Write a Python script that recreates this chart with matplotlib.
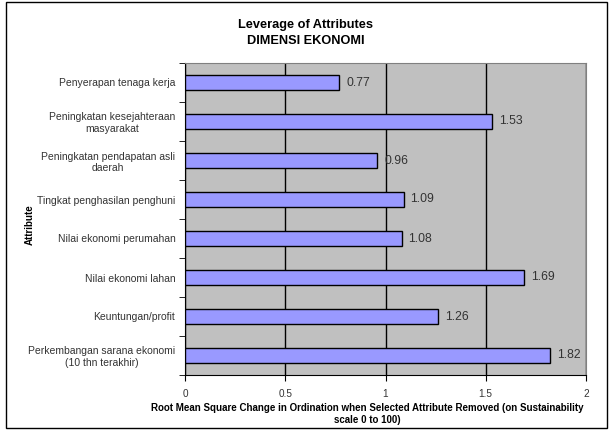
import matplotlib.pyplot as plt
from matplotlib.patches import Rectangle

# Leverage of attributes - economic dimension
attributes = [
    "Penyerapan tenaga kerja",
    "Peningkatan kesejahteraan\nmasyarakat",
    "Peningkatan pendapatan asli\ndaerah",
    "Tingkat penghasilan penghuni",
    "Nilai ekonomi perumahan",
    "Nilai ekonomi lahan",
    "Keuntungan/profit",
    "Perkembangan sarana ekonomi\n(10 thn terakhir)",
]
leverage = [0.77, 1.53, 0.96, 1.09, 1.08, 1.69, 1.26, 1.82]
x_ticks = [0, 0.5, 1, 1.5, 2]
x_ticklabels = ["0", "0.5", "1", "1.5", "2"]

plt.rcParams['font.family'] = ['Liberation Sans', 'DejaVu Sans']

fig = plt.figure(figsize=(6.11, 4.30), dpi=100)
ax = fig.add_axes([185 / 611, 1 - 375 / 430, 401 / 611, 312 / 430])

# frame around whole figure
fig.patches.append(Rectangle((6 / 611, 2 / 430), 601 / 611, 426 / 430,
                             transform=fig.transFigure, fill=False,
                             edgecolor='black', linewidth=1))

ax.set_facecolor('#C0C0C0')
pos = list(range(len(attributes)))
ax.barh(pos, leverage, height=0.37, color='#9999FF', edgecolor='black',
        linewidth=1, zorder=3)
for p, v in zip(pos, leverage):
    ax.text(v + 0.035, p, f"{v:.2f}", va='center', ha='left', fontsize=8.8,
            color='#333333', zorder=4)

ax.set_xlim(0, 2)
ax.set_ylim(len(attributes) - 0.5, -0.5)
ax.set_xticks(x_ticks)
ax.set_xticklabels(x_ticklabels, fontsize=7.2, color='#333333')
ax.set_yticks(pos)
ax.set_yticklabels(attributes, fontsize=7.5, color='#333333',
                   multialignment='center')
ax.tick_params(axis='y', length=0, pad=7)
ax.tick_params(axis='x', length=4, direction='out', pad=6)
ax.set_yticks([p + 0.5 for p in range(-1, len(attributes))], minor=True)
ax.tick_params(axis='y', which='minor', length=4, direction='out')
ax.xaxis.grid(True, color='black', linewidth=1, zorder=1)
ax.set_axisbelow(True)
for side in ['top', 'right']:
    ax.spines[side].set_color('#808080')
for side in ['left', 'bottom']:
    ax.spines[side].set_color('black')

fig.text(0.5, 1 - 33 / 430, "Leverage of Attributes\nDIMENSI EKONOMI",
         ha='center', va='center', fontsize=9.2, fontweight='bold',
         linespacing=1.45)
fig.text(367 / 611, 1 - 414 / 430,
         "Root Mean Square Change in Ordination when Selected Attribute Removed (on Sustainability\nscale 0 to 100)",
         ha='center', va='center', fontsize=7, fontweight='bold',
         linespacing=1.15)
fig.text(30 / 611, 1 - 225 / 430, "Attribute", rotation=90, ha='center',
         va='center', fontsize=7, fontweight='bold')

fig.savefig('out.png', dpi=100)
